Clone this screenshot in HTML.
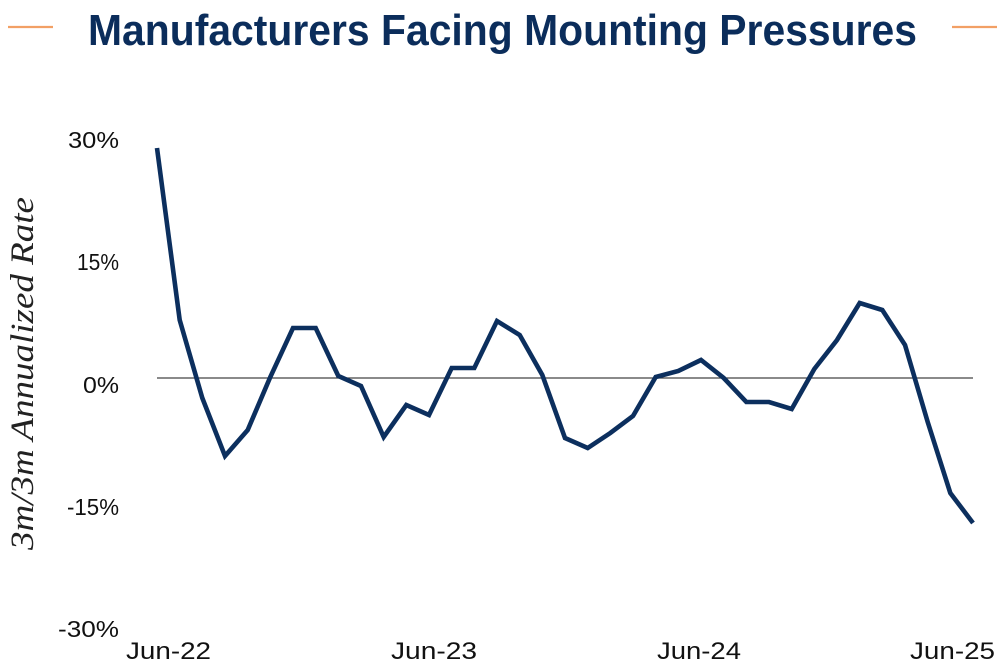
<!DOCTYPE html>
<html>
<head>
<meta charset="utf-8">
<style>
  html, body { margin: 0; padding: 0; background: #ffffff; }
  svg { display: block; }
</style>
</head>
<body>
<svg width="1000" height="667" viewBox="0 0 1000 667" xmlns="http://www.w3.org/2000/svg">
  <rect x="0" y="0" width="1000" height="667" fill="#ffffff"/>
  <!-- Title -->
  <line x1="8" y1="27" x2="53" y2="27" stroke="#f2a065" stroke-width="2.2"/>
  <line x1="952" y1="27" x2="997" y2="27" stroke="#f2a065" stroke-width="2.2"/>
  <text x="88" y="45" font-family="Liberation Sans, sans-serif" font-weight="bold" font-size="44" fill="#0b2d5b" textLength="829" lengthAdjust="spacingAndGlyphs">Manufacturers Facing Mounting Pressures</text>

  <!-- Y axis title -->
  <text transform="translate(33,373.5) rotate(-90)" x="0" y="0" text-anchor="middle" font-family="Liberation Serif, serif" font-style="italic" font-size="33" fill="#222222" textLength="353" lengthAdjust="spacingAndGlyphs">3m/3m Annualized Rate</text>

  <!-- Y tick labels -->
  <g font-family="Liberation Sans, sans-serif" font-size="23" fill="#111111" text-anchor="end">
    <text x="119" y="148" textLength="51" lengthAdjust="spacingAndGlyphs">30%</text>
    <text x="119" y="270" textLength="42" lengthAdjust="spacingAndGlyphs">15%</text>
    <text x="119" y="393" textLength="36" lengthAdjust="spacingAndGlyphs">0%</text>
    <text x="119" y="515" textLength="52" lengthAdjust="spacingAndGlyphs">-15%</text>
    <text x="119" y="637" textLength="61" lengthAdjust="spacingAndGlyphs">-30%</text>
  </g>

  <!-- X tick labels -->
  <g font-family="Liberation Sans, sans-serif" font-size="24" fill="#111111">
    <text x="126" y="659" textLength="85" lengthAdjust="spacingAndGlyphs">Jun-22</text>
    <text x="391" y="659" textLength="86" lengthAdjust="spacingAndGlyphs">Jun-23</text>
    <text x="657" y="659" textLength="84" lengthAdjust="spacingAndGlyphs">Jun-24</text>
    <text x="910" y="659" textLength="85" lengthAdjust="spacingAndGlyphs">Jun-25</text>
  </g>

  <!-- Zero line -->
  <line x1="157" y1="378" x2="973" y2="378" stroke="#444444" stroke-width="1.3"/>

  <!-- Series -->
  <polyline fill="none" stroke="#0c2f5e" stroke-width="4.6" stroke-linejoin="miter" stroke-miterlimit="3" stroke-linecap="butt"
    points="157,148 179.7,320 202.3,398 225,456 247.7,430 270.3,377 293,328 315.7,328 338.3,376 361,386 383.7,437 406.3,405 429,415 451.7,368 474.3,368 497,321 519.7,335 542.3,375 565,438 587.7,448 610.3,433 633,416 655.7,377 678.3,371 701,360 723.7,378 746.3,402 769,402 791.7,409 814.3,369 837,340 859.7,303 882.3,310 905,345 927.7,422 950.3,493 973,523"/>
</svg>
</body>
</html>
